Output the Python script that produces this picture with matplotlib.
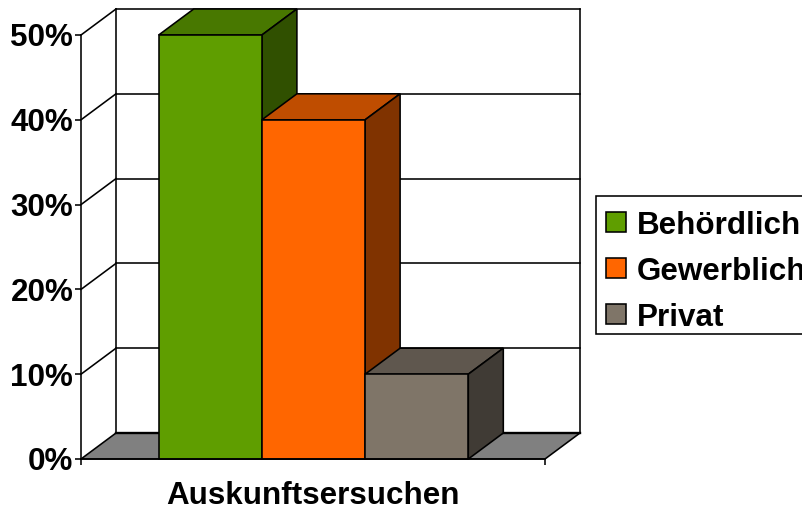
import matplotlib
matplotlib.use("Agg")
import matplotlib.pyplot as plt
from matplotlib.patches import Polygon, Rectangle

plt.rcParams['font.family'] = ['Liberation Sans', 'DejaVu Sans']

category = "Auskunftsersuchen"
series = ["Behördlich", "Gewerblich", "Privat"]
values = [50, 40, 10]
front_colors = ["#5F9E00", "#FF6600", "#7F7568"]
top_colors = ["#487800", "#BF4D00", "#5F574E"]
side_colors = ["#305000", "#803300", "#403B35"]
yticks = [0, 10, 20, 30, 40, 50]
ytick_labels = ["0%", "10%", "20%", "30%", "40%", "50%"]

W, H = 803, 508
fig = plt.figure(figsize=(W / 100, H / 100), dpi=100)
# axes = front plane of the 3d box
ax = fig.add_axes([81 / W, 1 - 459 / H, 464 / W, 424 / H])
ax.set_xlim(0, 1)
ax.set_ylim(0, 50)

# depth of the fake 3d, in data units
dx = 35 / 464
dy = 26 / 8.48
lw = 1.15
font_size = 22.6

def poly(pts, fc, z):
    ax.add_patch(Polygon(pts, closed=True, facecolor=fc, edgecolor='black',
                         linewidth=lw, zorder=z, clip_on=False))

def line(xs, ys, z=2, w=lw):
    ax.plot(xs, ys, color='black', linewidth=w, zorder=z, clip_on=False,
            solid_capstyle='projecting')

# back wall and floor
top = yticks[-1]
line([dx, dx], [dy, top + dy])
line([1 + dx, 1 + dx], [dy, top + dy])
for t in yticks[1:]:
    line([dx, 1 + dx], [t + dy, t + dy])
    line([0, dx], [t, t + dy])
poly([(0, 0), (1, 0), (1 + dx, dy), (dx, dy)], "#808080", 3)
line([dx, 1 + dx], [dy, dy], z=3.5, w=1.7)

# bars
bar_w = 103.2 / 464
x0 = 77.7 / 464
for i, v in enumerate(values):
    left = x0 + i * bar_w
    right = left + bar_w
    z = 4 + i
    ax.bar(left, v, width=bar_w, align='edge', color=front_colors[i],
           edgecolor='black', linewidth=lw, zorder=z + 0.5, clip_on=False)
    poly([(left, v), (left + dx, v + dy), (right + dx, v + dy), (right, v)], top_colors[i], z)
    poly([(right, 0), (right + dx, dy), (right + dx, v + dy), (right, v)], side_colors[i], z)

# axes
for s in ['top', 'right']:
    ax.spines[s].set_visible(False)
ax.patch.set_visible(False)
for s in ['left', 'bottom']:
    ax.spines[s].set_linewidth(lw)
    ax.spines[s].set_zorder(10)
ax.set_yticks(yticks)
ax.set_yticklabels(ytick_labels, fontsize=font_size, fontweight='bold')
ax.set_xticks([0, 1])
ax.set_xticklabels([])
ax.tick_params(axis='both', length=4.5, width=lw, pad=1)
ax.set_xlabel(category, fontsize=font_size, fontweight='bold', labelpad=10.5)

# legend, right edge runs off the picture
fig.add_artist(Rectangle((596 / W, 1 - 334 / H), 230 / W, 138 / H, facecolor='white',
                         edgecolor='black', linewidth=lw, transform=fig.transFigure,
                         clip_on=True))
legend_y = [222, 268, 314]
for name, col, y in zip(series, front_colors, legend_y):
    fig.add_artist(Rectangle((606.5 / W, 1 - (y + 10) / H), 20 / W, 20 / H, facecolor=col,
                             edgecolor='black', linewidth=lw, transform=fig.transFigure))
    fig.text(637 / W, 1 - y / H, name, fontsize=font_size, fontweight='bold',
             va='center_baseline', ha='left')

fig.savefig("out.png", dpi=100)
